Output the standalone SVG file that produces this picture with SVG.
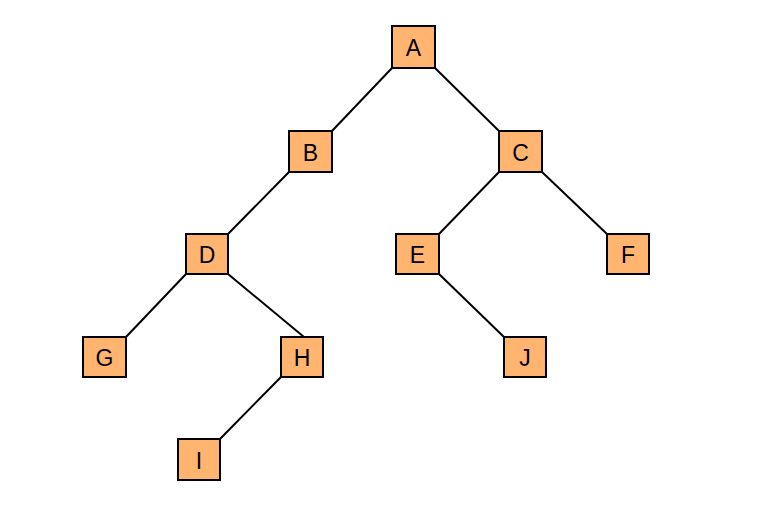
<svg xmlns="http://www.w3.org/2000/svg" width="784" height="510" viewBox="0 0 784 510">
<style>
.n rect{fill:#FFB570;stroke:#000;stroke-width:2}
.n text{font-family:"Liberation Sans",Arial,sans-serif;font-size:23px;fill:#000;text-anchor:middle;dominant-baseline:central}
#edges line{stroke:#000;stroke-width:2}
</style>
<rect width="784" height="510" fill="#fff"/>
<g id="edges">
<line x1="392" y1="68" x2="332" y2="131"/>
<line x1="435" y1="68" x2="499" y2="131"/>
<line x1="289" y1="172" x2="228" y2="234"/>
<line x1="499" y1="172" x2="439" y2="234"/>
<line x1="542" y1="172" x2="607" y2="234"/>
<line x1="186" y1="274" x2="126" y2="337"/>
<line x1="228" y1="274" x2="304" y2="337"/>
<line x1="439" y1="274" x2="504" y2="337"/>
<line x1="281" y1="377" x2="220" y2="439"/>
</g>
<g id="A" class="n"><rect x="392" y="26" width="43" height="42"/><text x="413.5" y="48">A</text></g>
<g id="B" class="n"><rect x="289" y="131" width="43" height="41"/><text x="310.5" y="152.5">B</text></g>
<g id="C" class="n"><rect x="499" y="131" width="43" height="41"/><text x="520.5" y="152.5">C</text></g>
<g id="D" class="n"><rect x="186" y="234" width="42" height="40"/><text x="207" y="255">D</text></g>
<g id="E" class="n"><rect x="396" y="234" width="43" height="40"/><text x="417.5" y="255">E</text></g>
<g id="F" class="n"><rect x="607" y="234" width="42" height="40"/><text x="628" y="255">F</text></g>
<g id="G" class="n"><rect x="83" y="337" width="43" height="40"/><text x="104.5" y="358">G</text></g>
<g id="H" class="n"><rect x="281" y="337" width="42" height="40"/><text x="302" y="358">H</text></g>
<g id="J" class="n"><rect x="504" y="337" width="42" height="40"/><text x="525" y="358">J</text></g>
<g id="I" class="n"><rect x="178" y="439" width="42" height="41"/><text x="199" y="460.5">I</text></g>
</svg>
